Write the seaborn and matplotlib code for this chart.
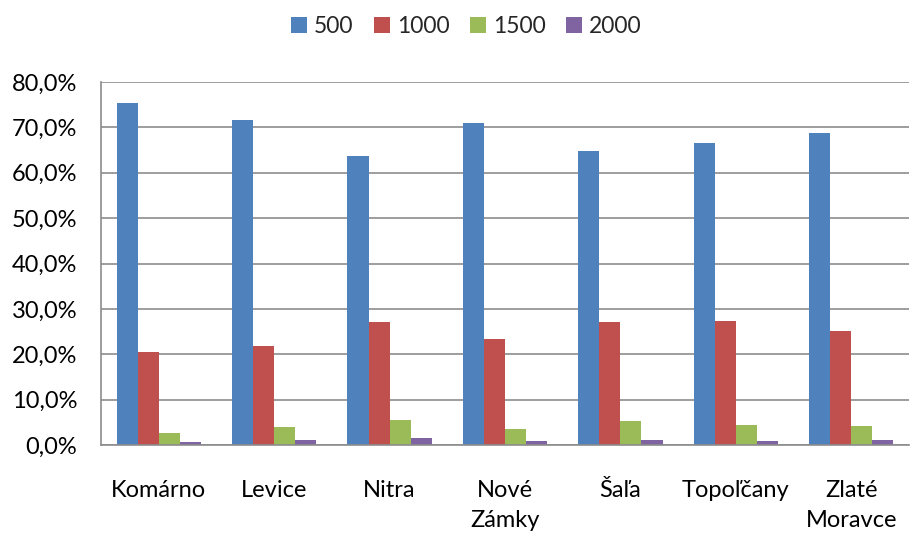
"""
Share of households by consumption band, Nitra region districts.
"""

import pandas as pd
import matplotlib
matplotlib.use('Agg')
import matplotlib.pyplot as plt
from matplotlib.ticker import FuncFormatter, FixedLocator
import seaborn as sns

# Data
DISTRICTS = ['Komárno', 'Levice', 'Nitra', 'Nové\nZámky', 'Šaľa', 'Topoľčany', 'Zlaté\nMoravce']
BANDS = ['500', '1000', '1500', '2000']
V500 = [75.4, 71.7, 63.7, 70.9, 64.9, 66.6, 68.7]
V1000 = [20.4, 21.8, 27.1, 23.4, 27.0, 27.3, 25.2]
V1500 = [2.7, 4.0, 5.6, 3.5, 5.3, 4.4, 4.1]
V2000 = [0.7, 1.1, 1.6, 0.8, 1.2, 0.8, 1.1]

COLORS = ['#4F81BD', '#C0504D', '#9BBB59', '#8064A2']
GRID = '#8c8c8c'

rows = []
for band, vals in zip(BANDS, [V500, V1000, V1500, V2000]):
    for d, v in zip(DISTRICTS, vals):
        rows.append({'District': d, 'Band': band, 'Share': v})
df = pd.DataFrame(rows)

sns.set_style('white')
plt.rcParams['font.family'] = ['Lato', 'DejaVu Sans']

fig = plt.figure(figsize=(9.11, 5.34), dpi=100)
ax = fig.add_axes([101 / 911, 1 - 445 / 534, (909 - 101) / 911, (445 - 82) / 534])

sns.barplot(data=df, x='District', y='Share', hue='Band', palette=COLORS,
            order=DISTRICTS, hue_order=BANDS, width=0.73, saturation=1,
            edgecolor='none', ax=ax)

ax.set_ylim(0, 80)
ax.set_xlim(-0.5, len(DISTRICTS) - 0.5)
ax.set_yticks(range(0, 81, 10))
ax.yaxis.set_major_formatter(FuncFormatter(lambda v, _: f'{v:.1f}%'.replace('.', ',')))
ax.yaxis.grid(True, color=GRID, linewidth=1.2)
ax.set_axisbelow(True)
ax.set_xlabel('')
ax.set_ylabel('')

for s in ['top', 'right']:
    ax.spines[s].set_visible(False)
for s in ['left', 'bottom']:
    ax.spines[s].set_color(GRID)
    ax.spines[s].set_linewidth(1.2)

ax.xaxis.set_minor_locator(FixedLocator([i - 0.5 for i in range(len(DISTRICTS) + 1)]))
ax.tick_params(axis='x', which='major', length=0, pad=25, labelsize=17, colors='black')
ax.tick_params(axis='x', which='minor', length=6, width=1.2, color=GRID, direction='out')
ax.tick_params(axis='y', which='major', length=6, width=1.2, color=GRID, direction='out',
               labelsize=17, labelcolor='black', pad=11)
for lbl in ax.get_xticklabels():
    lbl.set_verticalalignment('top')
    lbl.set_linespacing(1.55)

ax.legend(loc='center', bbox_to_anchor=(0.452, 1 + (82 - 27) / 363), ncol=4, frameon=False,
          fontsize=16.5, handlelength=0.7, handleheight=0.7, handletextpad=0.3,
          columnspacing=0.9, title=None)

plt.savefig('out.png', dpi=100)
plt.close()
